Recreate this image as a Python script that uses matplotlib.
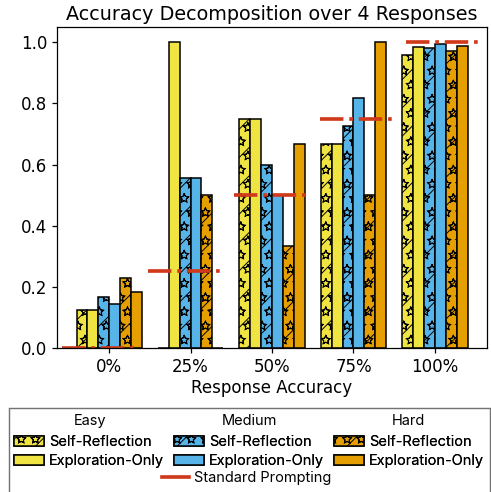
import numpy as np
import matplotlib.pyplot as plt
import matplotlib.hatch
from matplotlib.patches import Patch, Rectangle
from matplotlib.lines import Line2D

groups = ["0%", "25%", "50%", "75%", "100%"]
easy_sr = [0.125, 0.0, 0.75, 0.667, 0.958]
easy_eo = [0.125, 1.0, 0.75, 0.667, 0.985]
med_sr = [0.167, 0.556, 0.6, 0.727, 0.980]
med_eo = [0.145, 0.556, 0.5, 0.818, 0.996]
hard_sr = [0.227, 0.5, 0.333, 0.5, 0.971]
hard_eo = [0.182, 0.0, 0.667, 1.0, 0.987]
standard = [0.0, 0.25, 0.5, 0.75, 1.0]

c_easy = "#F0E442"
c_med = "#56B4E9"
c_hard = "#E69F00"
c_std = "#D0391A"
sr_hatch = "/*"

series = [
    (easy_sr, c_easy, sr_hatch),
    (easy_eo, c_easy, None),
    (med_sr, c_med, sr_hatch),
    (med_eo, c_med, None),
    (hard_sr, c_hard, sr_hatch),
    (hard_eo, c_hard, None),
]

# hollow stars in the hatch, like the original
matplotlib.hatch.Stars.filled = False

plt.rcParams["hatch.linewidth"] = 0.8
plt.rcParams["axes.linewidth"] = 1.05
plt.rcParams["xtick.major.size"] = 4.2
plt.rcParams["ytick.major.size"] = 4.2
plt.rcParams["xtick.major.width"] = 1.05
plt.rcParams["ytick.major.width"] = 1.05

DPI = 85
fig = plt.figure(figsize=(491 / DPI, 492 / DPI), dpi=DPI)
ax = fig.add_axes([0.116, 0.293, 0.876, 0.652])

x = np.arange(len(groups))
w = 0.8 / 6
for k, (vals, col, hatch) in enumerate(series):
    ax.bar(x + (k - 2.5) * w, vals, w, color=col, edgecolor="black",
           linewidth=1.3, hatch=hatch)

# standard prompting: one dash-dot line per fifth of the axes
for i, v in enumerate(standard):
    ax.axhline(v, xmin=i * 0.2 + 0.012, xmax=(i + 1) * 0.2 - 0.012,
               color=c_std, linestyle="-.", linewidth=3.1)

ax.set_ylim(0, 1.05)
ax.set_xticks(x)
ax.set_xticklabels(groups)
ax.tick_params(labelsize=14.1, pad=4)
ax.set_xlabel("Response Accuracy", fontsize=14.1, labelpad=2.6)
ax.set_title("Accuracy Decomposition over 4 Responses", fontsize=16.2, pad=6.2)

# legend: headers, two rows of patches, one line entry, in one frame
fig.patches.append(Rectangle((9 / 491, -0.01), 481 / 491, 1 - 408 / 492 + 0.01,
                             transform=fig.transFigure, fill=False,
                             edgecolor="0.45", linewidth=1.2))
lf = dict(family="Inter", size=12.35)
for name, px in [("Easy", 90), ("Medium", 249), ("Hard", 408)]:
    fig.text(px / 491, 1 - 421 / 492, name, ha="center", va="center",
             fontfamily="Inter", fontsize=12.35)

handles = []
labels = []
for col in [c_easy, c_med, c_hard]:
    handles.append(Patch(facecolor=col, edgecolor="black", linewidth=1.3,
                         hatch=sr_hatch))
    labels.append("Self-Reflection")
    handles.append(Patch(facecolor=col, edgecolor="black", linewidth=1.3))
    labels.append("Exploration-Only")
leg = fig.legend(handles, labels, ncol=3, loc="center",
                 bbox_to_anchor=(0.507, 1 - 451.5 / 492), frameon=False,
                 prop=lf, handlelength=2.05, handleheight=0.7,
                 handletextpad=0.35, columnspacing=0.68, labelspacing=0.35,
                 borderpad=0)
fig.legend([Line2D([0], [0], color=c_std, linewidth=3.1)],
           ["Standard Prompting"], loc="center",
           bbox_to_anchor=(247 / 491, 1 - 478 / 492), frameon=False,
           prop=lf, handlelength=1.8, handletextpad=0.4, borderpad=0)
fig.add_artist(leg)

fig.savefig("out.png", dpi=DPI)
